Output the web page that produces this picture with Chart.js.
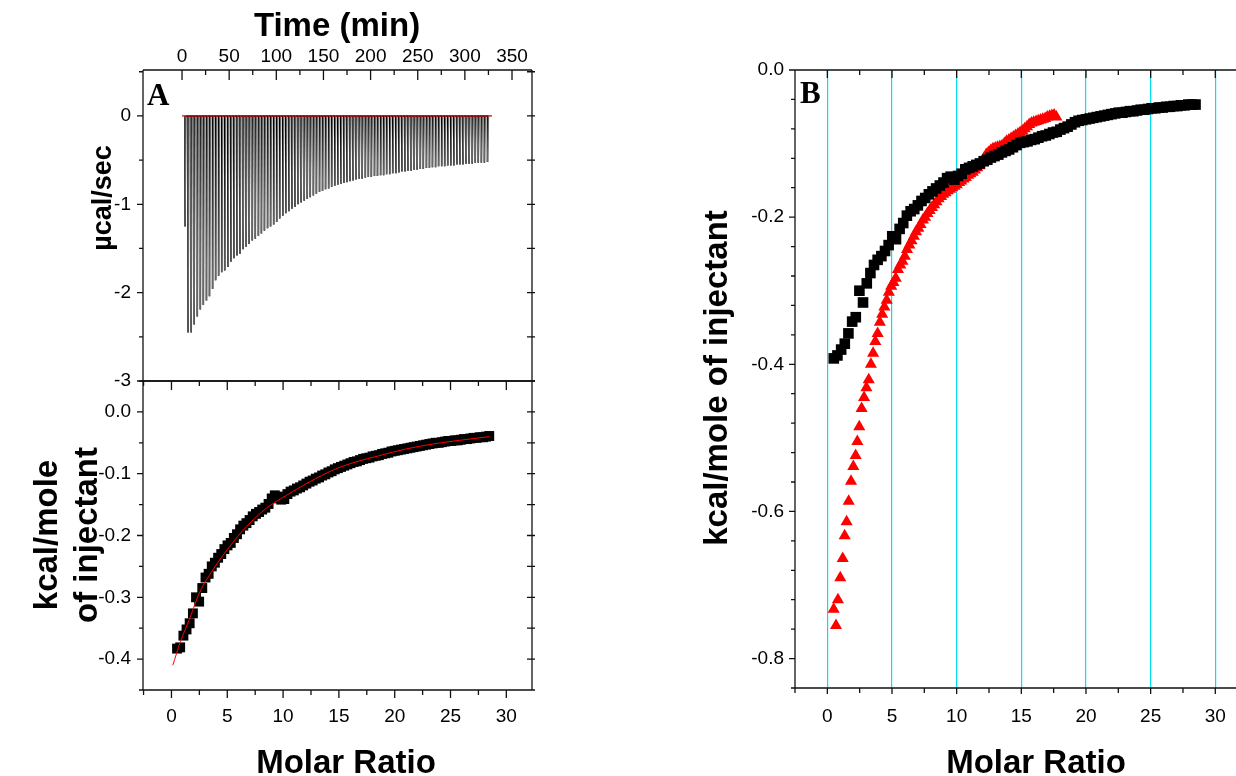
<!DOCTYPE html>
<html>
<head>
<meta charset="utf-8">
<script src="https://cdn.jsdelivr.net/npm/chart.js@4.4.1/dist/chart.umd.min.js"></script>
<style>
  html, body { margin: 0; padding: 0; background: #fff; }
  body { width: 1236px; height: 776px; position: relative; overflow: hidden; }
  canvas { position: absolute; }
  #grafico-crudo { left: 0; top: 0; }
  #grafico-calor { left: 0; top: 370px; }
  #grafico-b { left: 640px; top: 0; }
</style>
</head>
<body>
<canvas id="grafico-crudo" width="560" height="400"></canvas>
<canvas id="grafico-calor" width="560" height="406"></canvas>
<canvas id="grafico-b" width="596" height="776"></canvas>
<script>
// =============================
// DATOS
// =============================
const ticksTiempo = [0, 50, 100, 150, 200, 250, 300, 350];
const ticksCrudo = [0, -1, -2, -3];
const ticksCalorA = [0, -0.1, -0.2, -0.3, -0.4];
const ticksRelacion = [0, 5, 10, 15, 20, 25, 30];
const ticksCalorB = [0, -0.2, -0.4, -0.6, -0.8];

// tiempo de cada inyeccion (min) y profundidad del pico (µcal/sec)
const tiempoInyeccion = [
  3.2, 6.4, 9.7, 12.9, 16.2, 19.4, 22.6, 25.9, 29.1, 32.4,
  35.6, 38.8, 42.1, 45.3, 48.6, 51.8, 55.0, 58.3, 61.5, 64.8,
  68.0, 71.2, 74.5, 77.7, 81.0, 84.2, 87.4, 90.7, 93.9, 97.2,
  100.4, 103.6, 106.9, 110.1, 113.4, 116.6, 119.8, 123.1, 126.3, 129.6,
  132.8, 136.0, 139.3, 142.5, 145.8, 149.0, 152.2, 155.5, 158.7, 162.0,
  165.2, 168.4, 171.7, 174.9, 178.2, 181.4, 184.6, 187.9, 191.1, 194.4,
  197.6, 200.8, 204.1, 207.3, 210.6, 213.8, 217.0, 220.3, 223.5, 226.8,
  230.0, 233.2, 236.5, 239.7, 243.0, 246.2, 249.4, 252.7, 255.9, 259.2,
  262.4, 265.6, 268.9, 272.1, 275.4, 278.6, 281.8, 285.1, 288.3, 291.6,
  294.8, 298.0, 301.3, 304.5, 307.8, 311.0, 314.2, 317.5, 320.7, 324.0
];
const picoCrudo = [
  -1.25, -2.45, -2.45, -2.36, -2.27, -2.19, -2.14, -2.09, -2.04, -1.96,
  -1.86, -1.81, -1.77, -1.75, -1.71, -1.65, -1.61, -1.58, -1.56, -1.51,
  -1.48, -1.45, -1.41, -1.39, -1.36, -1.33, -1.30, -1.27, -1.25, -1.23,
  -1.20, -1.16, -1.13, -1.10, -1.08, -1.05, -1.03, -1.00, -0.98, -0.96,
  -0.94, -0.92, -0.90, -0.88, -0.86, -0.85, -0.83, -0.82, -0.80, -0.79,
  -0.78, -0.77, -0.76, -0.75, -0.74, -0.73, -0.72, -0.71, -0.71, -0.70,
  -0.69, -0.69, -0.68, -0.68, -0.67, -0.67, -0.66, -0.66, -0.65, -0.65,
  -0.64, -0.63, -0.63, -0.62, -0.62, -0.61, -0.61, -0.60, -0.60, -0.59,
  -0.59, -0.58, -0.58, -0.57, -0.57, -0.57, -0.56, -0.56, -0.56, -0.55,
  -0.55, -0.55, -0.54, -0.54, -0.54, -0.53, -0.53, -0.53, -0.53, -0.52
];
const lineaBaseTiempo = [0, 328.8];
const lineaBaseValor = [0, 0];

// relacion molar (compartida por las series negras)
const relacionMolar = [
  0.50, 0.78, 1.07, 1.35, 1.63, 1.92, 2.20, 2.48, 2.76, 3.05,
  3.33, 3.61, 3.89, 4.18, 4.46, 4.74, 5.02, 5.31, 5.59, 5.87,
  6.15, 6.44, 6.72, 7.00, 7.28, 7.57, 7.85, 8.13, 8.41, 8.70,
  8.98, 9.26, 9.54, 9.83, 10.11, 10.39, 10.67, 10.96, 11.24, 11.52,
  11.80, 12.09, 12.37, 12.65, 12.93, 13.22, 13.50, 13.78, 14.06, 14.35,
  14.63, 14.91, 15.19, 15.48, 15.76, 16.04, 16.32, 16.61, 16.89, 17.17,
  17.45, 17.74, 18.02, 18.30, 18.58, 18.87, 19.15, 19.43, 19.71, 20.00,
  20.28, 20.56, 20.84, 21.13, 21.41, 21.69, 21.97, 22.26, 22.54, 22.82,
  23.10, 23.39, 23.67, 23.95, 24.23, 24.52, 24.80, 25.08, 25.36, 25.65,
  25.93, 26.21, 26.49, 26.78, 27.06, 27.34, 27.62, 27.91, 28.19, 28.47
];
const calorA = [
  -0.383, -0.381, -0.362, -0.352, -0.342, -0.326, -0.300, -0.307, -0.285, -0.268,
  -0.262, -0.250, -0.244, -0.236, -0.230, -0.222, -0.216, -0.212, -0.204, -0.198,
  -0.190, -0.184, -0.180, -0.175, -0.169, -0.165, -0.162, -0.158, -0.155, -0.149,
  -0.140, -0.135, -0.137, -0.142, -0.141, -0.133, -0.129, -0.127, -0.124, -0.122,
  -0.119, -0.116, -0.113, -0.111, -0.108, -0.106, -0.103, -0.101, -0.098, -0.096,
  -0.093, -0.091, -0.089, -0.087, -0.085, -0.083, -0.081, -0.080, -0.078, -0.076,
  -0.075, -0.074, -0.072, -0.071, -0.070, -0.068, -0.067, -0.066, -0.064, -0.063,
  -0.062, -0.061, -0.060, -0.059, -0.058, -0.057, -0.056, -0.055, -0.054, -0.053,
  -0.052, -0.051, -0.050, -0.050, -0.049, -0.048, -0.047, -0.047, -0.046, -0.046,
  -0.045, -0.044, -0.044, -0.043, -0.042, -0.042, -0.041, -0.041, -0.040, -0.039
];
const ajusteRelacion = [0.12, 0.8, 1.6, 2.5, 3.7, 5.2, 6.7, 8.5, 10.3, 12.4, 14.5, 16.5, 18.6, 21.0, 23.4, 25.8, 28.5];
const ajusteCalor = [-0.410, -0.372, -0.336, -0.293, -0.256, -0.218, -0.186, -0.156, -0.135, -0.113, -0.094, -0.081, -0.071, -0.060, -0.052, -0.046, -0.040];

const calorB = [
  -0.392, -0.388, -0.380, -0.372, -0.358, -0.342, -0.336, -0.300, -0.316, -0.290,
  -0.276, -0.265, -0.258, -0.253, -0.246, -0.238, -0.226, -0.230, -0.216, -0.208,
  -0.198, -0.192, -0.189, -0.184, -0.178, -0.174, -0.169, -0.165, -0.161, -0.157,
  -0.153, -0.147, -0.145, -0.149, -0.144, -0.141, -0.135, -0.133, -0.131, -0.129,
  -0.127, -0.124, -0.122, -0.119, -0.117, -0.115, -0.112, -0.110, -0.108, -0.105,
  -0.102, -0.099, -0.098, -0.097, -0.095, -0.094, -0.092, -0.090, -0.089, -0.087,
  -0.085, -0.084, -0.081, -0.079, -0.077, -0.074, -0.071, -0.069, -0.068, -0.067,
  -0.066, -0.065, -0.064, -0.063, -0.062, -0.061, -0.060, -0.059, -0.058, -0.058,
  -0.057, -0.056, -0.056, -0.055, -0.054, -0.054, -0.053, -0.052, -0.052, -0.051,
  -0.051, -0.050, -0.050, -0.049, -0.049, -0.048, -0.048, -0.047, -0.047, -0.047
];
const relacionRoja = [
  0.49, 0.67, 0.82, 1.00, 1.19, 1.34, 1.49, 1.65, 1.83, 2.01,
  2.19, 2.32, 2.47, 2.65, 2.84, 3.02, 3.20, 3.37, 3.54, 3.71,
  3.89, 4.06, 4.24, 4.41, 4.59, 4.76, 4.94, 5.11, 5.29, 5.46,
  5.64, 5.81, 5.99, 6.16, 6.34, 6.51, 6.69, 6.86, 7.04, 7.21,
  7.39, 7.56, 7.74, 7.91, 8.09, 8.26, 8.44, 8.61, 8.79, 8.96,
  9.14, 9.31, 9.49, 9.66, 9.84, 10.01, 10.19, 10.36, 10.54, 10.71,
  10.89, 11.06, 11.24, 11.41, 11.59, 11.76, 11.94, 12.11, 12.29, 12.46,
  12.64, 12.81, 12.99, 13.16, 13.34, 13.51, 13.69, 13.86, 14.04, 14.21,
  14.39, 14.56, 14.74, 14.91, 15.09, 15.26, 15.44, 15.61, 15.79, 15.96,
  16.14, 16.31, 16.49, 16.66, 16.84, 17.01, 17.19, 17.36, 17.54, 17.71
];
const calorRojo = [
  -0.733, -0.755, -0.720, -0.690, -0.664, -0.633, -0.614, -0.586, -0.559, -0.539,
  -0.524, -0.505, -0.485, -0.460, -0.445, -0.432, -0.421, -0.400, -0.385, -0.369,
  -0.358, -0.343, -0.332, -0.322, -0.313, -0.302, -0.294, -0.289, -0.283, -0.271,
  -0.265, -0.260, -0.253, -0.244, -0.238, -0.232, -0.226, -0.220, -0.215, -0.210,
  -0.204, -0.200, -0.195, -0.191, -0.187, -0.183, -0.179, -0.175, -0.172, -0.169,
  -0.167, -0.164, -0.162, -0.160, -0.158, -0.156, -0.153, -0.151, -0.148, -0.146,
  -0.143, -0.141, -0.139, -0.136, -0.133, -0.130, -0.125, -0.120, -0.115, -0.112,
  -0.109, -0.107, -0.106, -0.105, -0.104, -0.103, -0.100, -0.097, -0.095, -0.093,
  -0.091, -0.089, -0.087, -0.085, -0.083, -0.080, -0.077, -0.074, -0.072, -0.071,
  -0.070, -0.069, -0.068, -0.067, -0.066, -0.064, -0.063, -0.062, -0.061, -0.064
];

// =============================
// UTILIDADES
// =============================
const fuenteTicks = { family: "'Liberation Sans', Arial, sans-serif", size: 19 };
const fuenteTitulo = "bold 33px 'Liberation Sans', Arial, sans-serif";
const fuenteTituloChico = "bold 27px 'Liberation Sans', Arial, sans-serif";
const fuenteLetra = "bold 31px 'Liberation Serif', 'Times New Roman', serif";

function puntos(xs, ys) {
  return xs.map((x, i) => ({ x, y: ys[i] }));
}

function subdivisiones(desde, hasta, paso, mayores) {
  const lista = [];
  const inicio = Math.ceil(desde / paso - 1e-6);
  const fin = Math.floor(hasta / paso + 1e-6);
  for (let k = inicio; k <= fin; k++) {
    const v = +(k * paso).toFixed(4);
    if (!mayores.some(m => Math.abs(m - v) < 1e-6)) lista.push(v);
  }
  return lista;
}

function fijarTicks(valores) {
  return scale => { scale.ticks = valores.map(v => ({ value: v })); };
}
function fijarAncho(ancho) {
  return scale => { scale.width = ancho; scale.paddingTop = 0; scale.paddingBottom = 0; };
}
function fijarAlto(alto) {
  return scale => { scale.height = alto; scale.paddingLeft = 0; scale.paddingRight = 0; };
}

// marco, marcas de eje (mayores y menores) y textos sueltos
const marcoPlugin = {
  id: "marco",
  afterDraw(chart, args, opts) {
    const { ctx, chartArea: a } = chart;
    ctx.save();
    ctx.strokeStyle = "#111";
    ctx.lineWidth = 1.3;
    ctx.beginPath();
    (opts.lados || []).forEach(lado => {
      if (lado === "top") { ctx.moveTo(a.left, a.top); ctx.lineTo(a.right, a.top); }
      if (lado === "bottom") { ctx.moveTo(a.left, a.bottom); ctx.lineTo(a.right, a.bottom); }
      if (lado === "left") { ctx.moveTo(a.left, a.top); ctx.lineTo(a.left, a.bottom); }
      if (lado === "right") { ctx.moveTo(a.right, a.top); ctx.lineTo(a.right, a.bottom); }
    });
    (opts.marcas || []).forEach(m => {
      const escala = chart.scales[m.eje];
      const dibujar = (v, largo) => {
        const dentro = largo[0], fuera = largo[1];
        const p = escala.getPixelForValue(v);
        if (m.lado === "top" || m.lado === "bottom") {
          if (p < a.left - 1 || p > a.right + 1) return;
          if (m.lado === "top") { ctx.moveTo(p, a.top - fuera); ctx.lineTo(p, a.top + dentro); }
          else { ctx.moveTo(p, a.bottom - dentro); ctx.lineTo(p, a.bottom + fuera); }
        } else {
          if (p < a.top - 1 || p > a.bottom + 1) return;
          if (m.lado === "left") { ctx.moveTo(a.left - fuera, p); ctx.lineTo(a.left + dentro, p); }
          else { ctx.moveTo(a.right - dentro, p); ctx.lineTo(a.right + fuera, p); }
        }
      };
      m.mayores.forEach(v => dibujar(v, m.largo));
      m.menores.forEach(v => dibujar(v, m.largoMenor));
    });
    ctx.stroke();

    ctx.fillStyle = "#000";
    (opts.textos || []).forEach(t => {
      ctx.save();
      ctx.font = t.fuente;
      ctx.textAlign = t.alinear || "center";
      ctx.textBaseline = "alphabetic";
      ctx.translate(t.x, t.y);
      if (t.girar) ctx.rotate(-Math.PI / 2);
      ctx.fillText(t.texto, 0, 0);
      ctx.restore();
    });
    ctx.restore();
  }
};
Chart.register(marcoPlugin);

const comunes = {
  responsive: false,
  animation: false,
  events: [],
  plugins: { legend: { display: false }, tooltip: { enabled: false } }
};

// =============================
// A (arriba): TERMOGRAMA
// =============================
const trazaCruda = [];
tiempoInyeccion.forEach((t, i) => {
  trazaCruda.push({ x: t, y: 0 }, { x: t, y: picoCrudo[i] }, { x: t + 1.1, y: 0 });
});

new Chart(document.getElementById("grafico-crudo"), {
  type: "line",
  data: {
    datasets: [
      {
        data: puntos(lineaBaseTiempo, lineaBaseValor),
        borderColor: "#e00000",
        borderWidth: 1.3,
        pointRadius: 0,
        order: 0
      },
      {
        data: trazaCruda,
        borderColor: "#000",
        borderWidth: 1.6,
        pointRadius: 0,
        order: 1,
        segment: {
          borderColor: ctx => (ctx.p0DataIndex % 3 === 1 ? "#666" : "#000"),
          borderWidth: ctx => (ctx.p0DataIndex % 3 === 1 ? 1.3 : 1.6)
        }
      }
    ]
  },
  options: {
    ...comunes,
    layout: { autoPadding: false, padding: { left: 0, top: 0, right: 28, bottom: 19 } },
    plugins: {
      ...comunes.plugins,
      marco: {
        lados: ["top", "bottom", "left", "right"],
        marcas: [
          { eje: "x", lado: "top", mayores: ticksTiempo, menores: subdivisiones(0, 350, 25, ticksTiempo), largo: [10, 0], largoMenor: [5, 0] },
          { eje: "y", lado: "left", mayores: ticksCrudo, menores: subdivisiones(-3, 0.52, 0.5, ticksCrudo), largo: [0, 6], largoMenor: [0, 4] },
          { eje: "y", lado: "right", mayores: ticksCrudo, menores: subdivisiones(-3, 0.52, 0.5, ticksCrudo), largo: [5, 3], largoMenor: [5, 3] }
        ],
        textos: [
          { texto: "Time (min)", x: 337, y: 36, fuente: fuenteTitulo },
          { texto: "µcal/sec", x: 111, y: 198, fuente: fuenteTituloChico, girar: true },
          { texto: "A", x: 147, y: 105, fuente: fuenteLetra, alinear: "left" }
        ]
      }
    },
    scales: {
      x: {
        type: "linear",
        position: "top",
        min: -41.4,
        max: 371.2,
        afterBuildTicks: fijarTicks(ticksTiempo),
        afterFit: fijarAlto(70),
        grid: { display: false, drawTicks: false },
        border: { display: false },
        ticks: { font: fuenteTicks, color: "#000", padding: 2, autoSkip: false, maxRotation: 0 }
      },
      y: {
        min: -3,
        max: 0.52,
        afterBuildTicks: fijarTicks(ticksCrudo),
        afterFit: fijarAncho(143),
        grid: { display: false, drawTicks: false },
        border: { display: false },
        ticks: { font: fuenteTicks, color: "#000", padding: 12, autoSkip: false }
      }
    }
  }
});

// =============================
// A (abajo): CALORES INTEGRADOS
// =============================
new Chart(document.getElementById("grafico-calor"), {
  type: "line",
  data: {
    datasets: [
      {
        data: puntos(ajusteRelacion, ajusteCalor),
        borderColor: "#ff0000",
        borderWidth: 1,
        pointRadius: 0,
        cubicInterpolationMode: "monotone",
        order: 0
      },
      {
        data: puntos(relacionMolar, calorA),
        showLine: false,
        pointStyle: "rect",
        pointRadius: 7,
        pointBackgroundColor: "#000",
        pointBorderColor: "#000",
        pointBorderWidth: 0,
        order: 1
      }
    ]
  },
  options: {
    ...comunes,
    layout: { autoPadding: false, padding: { left: 0, top: 11, right: 28, bottom: 0 } },
    plugins: {
      ...comunes.plugins,
      marco: {
        lados: ["top", "bottom", "left", "right"],
        marcas: [
          { eje: "x", lado: "bottom", mayores: ticksRelacion, menores: subdivisiones(-2.55, 32.3, 2.5, ticksRelacion), largo: [0, 8], largoMenor: [0, 5] },
          { eje: "x", lado: "top", mayores: ticksRelacion, menores: subdivisiones(-2.55, 32.3, 2.5, ticksRelacion), largo: [9, 0], largoMenor: [5, 0] },
          { eje: "y", lado: "left", mayores: ticksCalorA, menores: subdivisiones(-0.45, 0.05, 0.05, ticksCalorA), largo: [0, 6], largoMenor: [0, 4] },
          { eje: "y", lado: "right", mayores: ticksCalorA, menores: subdivisiones(-0.45, 0.05, 0.05, ticksCalorA), largo: [5, 3], largoMenor: [5, 3] }
        ],
        textos: [
          { texto: "kcal/mole", x: 57, y: 165, fuente: fuenteTitulo, girar: true },
          { texto: "of injectant", x: 97, y: 165, fuente: fuenteTitulo, girar: true },
          { texto: "Molar Ratio", x: 346, y: 403, fuente: fuenteTitulo }
        ]
      }
    },
    scales: {
      x: {
        type: "linear",
        min: -2.55,
        max: 32.3,
        afterBuildTicks: fijarTicks(ticksRelacion),
        afterFit: fijarAlto(86),
        grid: { display: false, drawTicks: false },
        border: { display: false },
        ticks: { font: fuenteTicks, color: "#000", padding: 15, autoSkip: false, maxRotation: 0 }
      },
      y: {
        min: -0.45,
        max: 0.05,
        afterBuildTicks: fijarTicks(ticksCalorA),
        afterFit: fijarAncho(143),
        grid: { display: false, drawTicks: false },
        border: { display: false },
        ticks: { font: fuenteTicks, color: "#000", padding: 12, autoSkip: false, callback: v => v.toFixed(1) }
      }
    }
  }
});

// =============================
// B: COMPARACION
// =============================
new Chart(document.getElementById("grafico-b"), {
  type: "line",
  data: {
    datasets: [
      {
        data: puntos(relacionMolar, calorB),
        showLine: false,
        pointStyle: "rect",
        pointRadius: 7.5,
        pointBackgroundColor: "#000",
        pointBorderColor: "#000",
        pointBorderWidth: 0,
        order: 0
      },
      {
        data: puntos(relacionRoja, calorRojo),
        showLine: false,
        pointStyle: "triangle",
        pointRadius: 7,
        pointBackgroundColor: "#ff0000",
        pointBorderColor: "#ff0000",
        pointBorderWidth: 0,
        order: 1
      }
    ]
  },
  options: {
    ...comunes,
    layout: { autoPadding: false, padding: { left: 0, top: 70, right: 0, bottom: 0 } },
    plugins: {
      ...comunes.plugins,
      marco: {
        lados: ["top", "bottom", "left"],
        marcas: [
          { eje: "x", lado: "bottom", mayores: ticksRelacion, menores: subdivisiones(-2.5, 31.6, 2.5, ticksRelacion), largo: [0, 6], largoMenor: [0, 5] },
          { eje: "x", lado: "top", mayores: ticksRelacion, menores: subdivisiones(-2.5, 31.6, 2.5, ticksRelacion), largo: [8, 0], largoMenor: [5, 0] },
          { eje: "y", lado: "left", mayores: ticksCalorB, menores: subdivisiones(-0.84, 0, 0.04, ticksCalorB), largo: [0, 6], largoMenor: [0, 4] }
        ],
        textos: [
          { texto: "kcal/mole of injectant", x: 87, y: 378, fuente: fuenteTitulo, girar: true },
          { texto: "Molar Ratio", x: 396, y: 773, fuente: fuenteTitulo },
          { texto: "B", x: 160, y: 103, fuente: fuenteLetra, alinear: "left" }
        ]
      }
    },
    scales: {
      x: {
        type: "linear",
        min: -2.5,
        max: 31.6,
        afterBuildTicks: fijarTicks(ticksRelacion),
        afterFit: fijarAlto(88),
        grid: { display: true, color: "#00e0f0", lineWidth: 1.2, drawTicks: false },
        border: { display: false },
        ticks: { font: fuenteTicks, color: "#000", padding: 17, autoSkip: false, maxRotation: 0 }
      },
      y: {
        min: -0.84,
        max: 0,
        afterBuildTicks: fijarTicks(ticksCalorB),
        afterFit: fijarAncho(155),
        grid: { display: false, drawTicks: false },
        border: { display: false },
        ticks: { font: fuenteTicks, color: "#000", padding: 11, autoSkip: false, callback: v => v.toFixed(1) }
      }
    }
  }
});
</script>
</body>
</html>
